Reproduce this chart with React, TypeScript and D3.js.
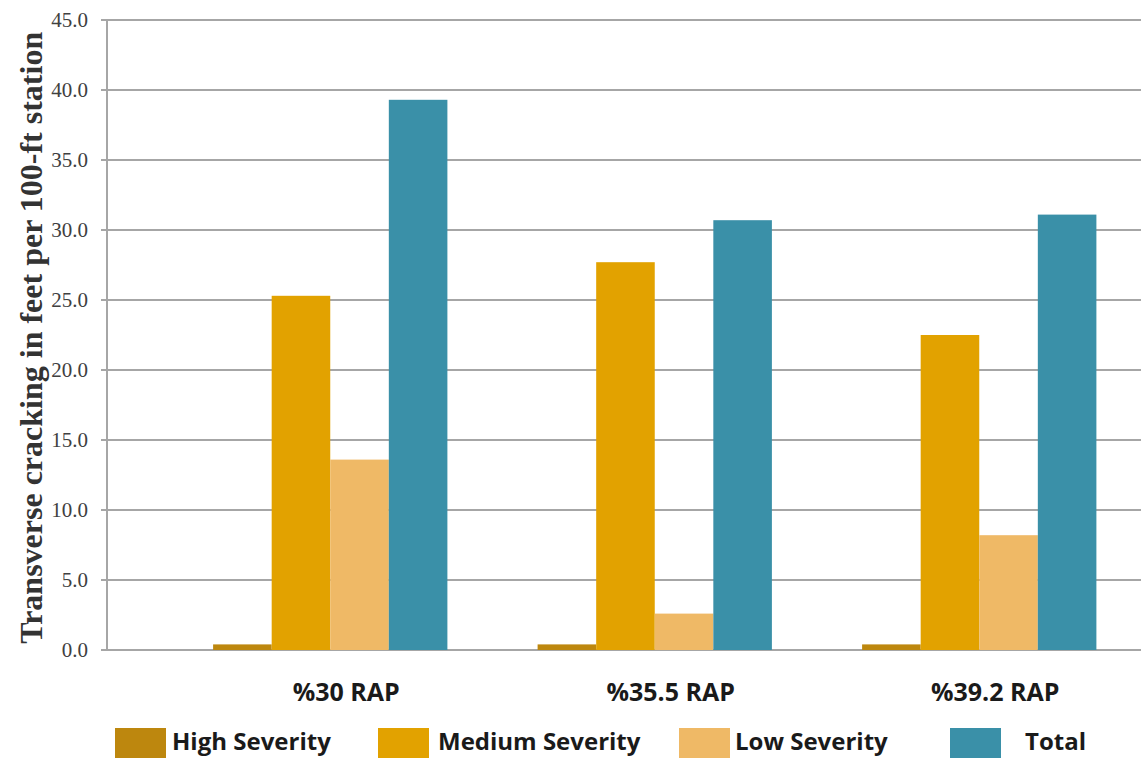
import React from "react";
import * as d3 from "d3";

const categories = ["%30 RAP", "%35.5 RAP", "%39.2 RAP"];
const seriesNames = ["High Severity", "Medium Severity", "Low Severity", "Total"];
const highSeverity = [0.4, 0.4, 0.4];
const mediumSeverity = [25.3, 27.7, 22.5];
const lowSeverity = [13.6, 2.6, 8.2];
const totalCracking = [39.3, 30.7, 31.1];
const yTicks = [0, 5, 10, 15, 20, 25, 30, 35, 40, 45];

const seriesValues = [highSeverity, mediumSeverity, lowSeverity, totalCracking];
const colors = ["#bd870e", "#e2a200", "#efb966", "#3a90a8"];

const W = 1141;
const H = 762;
const axisX = 107;
const sansFont = "'Open Sans', Lato, sans-serif";

export default function App() {
  const y = d3.scaleLinear().domain([0, 45]).range([650, 20]);
  const x0 = d3
    .scaleBand<string>()
    .domain(categories)
    .range([168, 1141.5])
    .paddingInner(0.278)
    .paddingOuter(0.139);
  const x1 = d3
    .scaleBand<string>()
    .domain(seriesNames)
    .range([0, x0.bandwidth()])
    .padding(0);

  // legend swatch left edges and label left edges
  const legendX = [115, 378, 679, 950];
  const legendTextX = [172, 438, 735, 1025];

  return (
    <svg
      width={W}
      height={H}
      style={{ position: "absolute", left: 0, top: 0, background: "#fff" }}
    >
      {/* horizontal grid lines and tick marks */}
      {yTicks.map((t) => (
        <g key={t}>
          <line
            x1={axisX - 6}
            x2={W}
            y1={y(t)}
            y2={y(t)}
            stroke="#a6a6a6"
            strokeWidth={2}
          />
          <text
            x={88}
            y={y(t)}
            dy="0.35em"
            textAnchor="end"
            fontFamily="'Liberation Serif', serif"
            fontSize={21}
            fill="#404040"
          >
            {t.toFixed(1)}
          </text>
        </g>
      ))}
      <line x1={axisX} x2={axisX} y1={y(45)} y2={y(0)} stroke="#a6a6a6" strokeWidth={2} />

      {/* bars */}
      {categories.map((c, ci) => (
        <g key={c} transform={`translate(${x0(c)},0)`}>
          {seriesNames.map((s, si) => {
            const v = seriesValues[si][ci];
            return (
              <rect
                key={s}
                x={x1(s)}
                y={y(v)}
                width={x1.bandwidth()}
                height={y(0) - y(v)}
                fill={colors[si]}
              />
            );
          })}
        </g>
      ))}

      {/* category labels */}
      {categories.map((c) => (
        <text
          key={c}
          x={(x0(c) ?? 0) + x0.bandwidth() / 2 + 16}
          y={692}
          dy="0.35em"
          textAnchor="middle"
          fontFamily={sansFont}
          fontWeight="bold"
          fontSize={25}
          fill="#1a1a1a"
        >
          {c}
        </text>
      ))}

      {/* y axis title */}
      <text
        transform={`translate(31, ${y(22.3)}) rotate(-90)`}
        textAnchor="middle"
        dy="0.35em"
        fontFamily="'Liberation Serif', serif"
        fontWeight="bold"
        fontSize={32}
        fill="#333"
      >
        Transverse cracking in feet per 100-ft station
      </text>

      {/* legend */}
      {seriesNames.map((s, i) => (
        <g key={s}>
          <rect x={legendX[i]} y={728} width={51} height={30} fill={colors[i]} />
          <text
            x={legendTextX[i]}
            y={742}
            dy="0.35em"
            fontFamily={sansFont}
            fontWeight="bold"
            fontSize={24}
            fill="#1a1a1a"
          >
            {s}
          </text>
        </g>
      ))}
    </svg>
  );
}
